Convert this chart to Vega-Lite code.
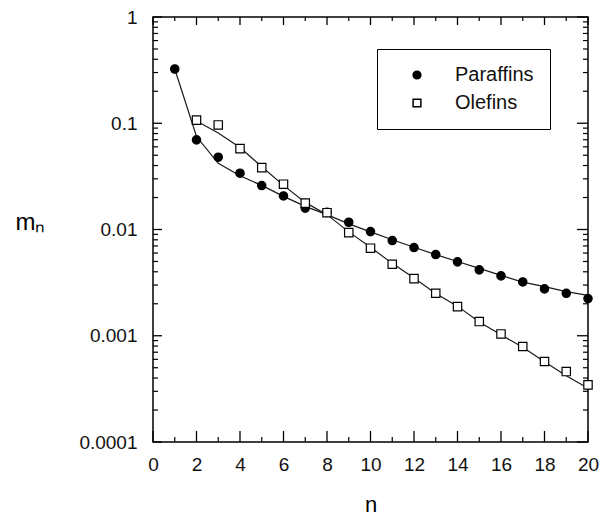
{
  "$schema": "https://vega.github.io/schema/vega-lite/v6.json",
  "width": 435,
  "height": 425,
  "autosize": {"type": "none"},
  "padding": {"left": 153, "top": 17, "right": 15, "bottom": 74},
  "background": "white",
  "config": {
    "view": {"stroke": "black", "strokeWidth": 1.5},
    "font": "Liberation Sans",
    "axis": {
      "domain": false,
      "ticks": false,
      "grid": false,
      "labelColor": "#111",
      "labelFont": "Liberation Sans",
      "labelFontSize": 19,
      "titleFont": "Liberation Sans",
      "titleFontWeight": "normal",
      "titleColor": "black",
      "labelFlush": false,
      "labelOverlap": false
    },
    "legend": {
      "orient": "none",
      "legendX": 224,
      "legendY": 32,
      "strokeColor": "black",
      "fillColor": "white",
      "padding": 16,
      "labelFontSize": 20,
      "labelFont": "Liberation Sans",
      "labelColor": "#111",
      "symbolSize": 60,
      "symbolOffset": 14,
      "labelOffset": 28,
      "rowPadding": 8
    }
  },
  "datasets": {
    "series": [
      {"n": 1, "m": 0.324, "series": "Paraffins", "kind": "data"},
      {"n": 2, "m": 0.0697, "series": "Paraffins", "kind": "data"},
      {"n": 3, "m": 0.0479, "series": "Paraffins", "kind": "data"},
      {"n": 4, "m": 0.0339, "series": "Paraffins", "kind": "data"},
      {"n": 5, "m": 0.0259, "series": "Paraffins", "kind": "data"},
      {"n": 6, "m": 0.0207, "series": "Paraffins", "kind": "data"},
      {"n": 7, "m": 0.0159, "series": "Paraffins", "kind": "data"},
      {"n": 8, "m": 0.0145, "series": "Paraffins", "kind": "data"},
      {"n": 9, "m": 0.0117, "series": "Paraffins", "kind": "data"},
      {"n": 10, "m": 0.00955, "series": "Paraffins", "kind": "data"},
      {"n": 11, "m": 0.00787, "series": "Paraffins", "kind": "data"},
      {"n": 12, "m": 0.00676, "series": "Paraffins", "kind": "data"},
      {"n": 13, "m": 0.00581, "series": "Paraffins", "kind": "data"},
      {"n": 14, "m": 0.00496, "series": "Paraffins", "kind": "data"},
      {"n": 15, "m": 0.00417, "series": "Paraffins", "kind": "data"},
      {"n": 16, "m": 0.00366, "series": "Paraffins", "kind": "data"},
      {"n": 17, "m": 0.00321, "series": "Paraffins", "kind": "data"},
      {"n": 18, "m": 0.00276, "series": "Paraffins", "kind": "data"},
      {"n": 19, "m": 0.00251, "series": "Paraffins", "kind": "data"},
      {"n": 20, "m": 0.00224, "series": "Paraffins", "kind": "data"},
      {"n": 2, "m": 0.107, "series": "Olefins", "kind": "data"},
      {"n": 3, "m": 0.0964, "series": "Olefins", "kind": "data"},
      {"n": 4, "m": 0.0577, "series": "Olefins", "kind": "data"},
      {"n": 5, "m": 0.0382, "series": "Olefins", "kind": "data"},
      {"n": 6, "m": 0.0267, "series": "Olefins", "kind": "data"},
      {"n": 7, "m": 0.0177, "series": "Olefins", "kind": "data"},
      {"n": 8, "m": 0.0144, "series": "Olefins", "kind": "data"},
      {"n": 9, "m": 0.00935, "series": "Olefins", "kind": "data"},
      {"n": 10, "m": 0.00667, "series": "Olefins", "kind": "data"},
      {"n": 11, "m": 0.00471, "series": "Olefins", "kind": "data"},
      {"n": 12, "m": 0.00345, "series": "Olefins", "kind": "data"},
      {"n": 13, "m": 0.00251, "series": "Olefins", "kind": "data"},
      {"n": 14, "m": 0.00188, "series": "Olefins", "kind": "data"},
      {"n": 15, "m": 0.00136, "series": "Olefins", "kind": "data"},
      {"n": 16, "m": 0.00104, "series": "Olefins", "kind": "data"},
      {"n": 17, "m": 0.000792, "series": "Olefins", "kind": "data"},
      {"n": 18, "m": 0.000572, "series": "Olefins", "kind": "data"},
      {"n": 19, "m": 0.00046, "series": "Olefins", "kind": "data"},
      {"n": 20, "m": 0.000345, "series": "Olefins", "kind": "data"},
      {"n": 1, "m": 0.324, "series": "Paraffins", "kind": "fit"},
      {"n": 2, "m": 0.075, "series": "Paraffins", "kind": "fit"},
      {"n": 3, "m": 0.042, "series": "Paraffins", "kind": "fit"},
      {"n": 4, "m": 0.032, "series": "Paraffins", "kind": "fit"},
      {"n": 5, "m": 0.026, "series": "Paraffins", "kind": "fit"},
      {"n": 6, "m": 0.0205, "series": "Paraffins", "kind": "fit"},
      {"n": 7, "m": 0.0165, "series": "Paraffins", "kind": "fit"},
      {"n": 8, "m": 0.0138, "series": "Paraffins", "kind": "fit"},
      {"n": 9, "m": 0.0113, "series": "Paraffins", "kind": "fit"},
      {"n": 10, "m": 0.0095, "series": "Paraffins", "kind": "fit"},
      {"n": 11, "m": 0.008, "series": "Paraffins", "kind": "fit"},
      {"n": 12, "m": 0.0068, "series": "Paraffins", "kind": "fit"},
      {"n": 13, "m": 0.0058, "series": "Paraffins", "kind": "fit"},
      {"n": 14, "m": 0.005, "series": "Paraffins", "kind": "fit"},
      {"n": 15, "m": 0.0043, "series": "Paraffins", "kind": "fit"},
      {"n": 16, "m": 0.0037, "series": "Paraffins", "kind": "fit"},
      {"n": 17, "m": 0.0032, "series": "Paraffins", "kind": "fit"},
      {"n": 18, "m": 0.0029, "series": "Paraffins", "kind": "fit"},
      {"n": 19, "m": 0.0026, "series": "Paraffins", "kind": "fit"},
      {"n": 20, "m": 0.0024, "series": "Paraffins", "kind": "fit"},
      {"n": 2, "m": 0.105, "series": "Olefins", "kind": "fit"},
      {"n": 3, "m": 0.081, "series": "Olefins", "kind": "fit"},
      {"n": 4, "m": 0.059, "series": "Olefins", "kind": "fit"},
      {"n": 5, "m": 0.039, "series": "Olefins", "kind": "fit"},
      {"n": 6, "m": 0.026, "series": "Olefins", "kind": "fit"},
      {"n": 7, "m": 0.018, "series": "Olefins", "kind": "fit"},
      {"n": 8, "m": 0.0138, "series": "Olefins", "kind": "fit"},
      {"n": 9, "m": 0.0095, "series": "Olefins", "kind": "fit"},
      {"n": 10, "m": 0.0068, "series": "Olefins", "kind": "fit"},
      {"n": 11, "m": 0.0048, "series": "Olefins", "kind": "fit"},
      {"n": 12, "m": 0.0035, "series": "Olefins", "kind": "fit"},
      {"n": 13, "m": 0.0025, "series": "Olefins", "kind": "fit"},
      {"n": 14, "m": 0.0019, "series": "Olefins", "kind": "fit"},
      {"n": 15, "m": 0.00135, "series": "Olefins", "kind": "fit"},
      {"n": 16, "m": 0.00102, "series": "Olefins", "kind": "fit"},
      {"n": 17, "m": 0.00078, "series": "Olefins", "kind": "fit"},
      {"n": 18, "m": 0.00057, "series": "Olefins", "kind": "fit"},
      {"n": 19, "m": 0.00042, "series": "Olefins", "kind": "fit"},
      {"n": 20, "m": 0.00032, "series": "Olefins", "kind": "fit"}
    ],
    "xmajor": [{"v": 0}, {"v": 2}, {"v": 4}, {"v": 6}, {"v": 8}, {"v": 10}, {"v": 12}, {"v": 14}, {"v": 16}, {"v": 18}, {"v": 20}],
    "xminor": [{"v": 1}, {"v": 3}, {"v": 5}, {"v": 7}, {"v": 9}, {"v": 11}, {"v": 13}, {"v": 15}, {"v": 17}, {"v": 19}],
    "ymajor": [{"v": 0.0001}, {"v": 0.001}, {"v": 0.01}, {"v": 0.1}, {"v": 1}],
    "yminor": [{"v": 0.0002}, {"v": 0.0003}, {"v": 0.0004}, {"v": 0.0005}, {"v": 0.0006}, {"v": 0.0007}, {"v": 0.0008}, {"v": 0.0009}, {"v": 0.002}, {"v": 0.003}, {"v": 0.004}, {"v": 0.005}, {"v": 0.006}, {"v": 0.007}, {"v": 0.008}, {"v": 0.009}, {"v": 0.02}, {"v": 0.03}, {"v": 0.04}, {"v": 0.05}, {"v": 0.06}, {"v": 0.07}, {"v": 0.08}, {"v": 0.09}, {"v": 0.2}, {"v": 0.3}, {"v": 0.4}, {"v": 0.5}, {"v": 0.6}, {"v": 0.7}, {"v": 0.8}, {"v": 0.9}]
  },
  "layer": [
    {
      "data": {"name": "series"},
      "transform": [{"filter": "datum.kind == 'fit'"}],
      "mark": {"type": "line", "color": "#1a1a1a", "strokeWidth": 1.2},
      "encoding": {
        "x": {
          "field": "n",
          "type": "quantitative",
          "scale": {"domain": [0, 20], "nice": false, "zero": false},
          "axis": {
            "orient": "bottom",
            "values": [0, 2, 4, 6, 8, 10, 12, 14, 16, 18, 20],
            "labelPadding": 13,
            "title": "n",
            "titleFontSize": 22,
            "titleY": 62,
            "titleBaseline": "middle"
          }
        },
        "y": {
          "field": "m",
          "type": "quantitative",
          "scale": {"type": "log", "domain": [0.0001, 1], "nice": false},
          "axis": {
            "orient": "left",
            "values": [0.0001, 0.001, 0.01, 0.1, 1],
            "format": "~g",
            "labelPadding": 16,
            "title": "mₙ",
            "titleFontSize": 24,
            "titleAngle": 0,
            "titleAlign": "center",
            "titleBaseline": "middle",
            "titleX": -123,
            "titleY": 205
          }
        },
        "detail": {"field": "series"}
      }
    },
    {
      "data": {"name": "xmajor"},
      "mark": {"type": "tick", "orient": "vertical", "color": "black", "size": 11, "thickness": 1.3, "yOffset": -5.5, "opacity": 1},
      "encoding": {
        "x": {"field": "v", "type": "quantitative", "axis": null},
        "y": {"datum": 0.0001, "type": "quantitative", "axis": null}
      }
    },
    {
      "data": {"name": "xmajor"},
      "mark": {"type": "tick", "orient": "vertical", "color": "black", "size": 8, "thickness": 1.3, "yOffset": 4, "opacity": 1},
      "encoding": {
        "x": {"field": "v", "type": "quantitative", "axis": null},
        "y": {"datum": 1, "type": "quantitative", "axis": null}
      }
    },
    {
      "data": {"name": "xminor"},
      "mark": {"type": "tick", "orient": "vertical", "color": "black", "size": 5, "thickness": 1.2, "yOffset": -2.5, "opacity": 1},
      "encoding": {
        "x": {"field": "v", "type": "quantitative", "axis": null},
        "y": {"datum": 0.0001, "type": "quantitative", "axis": null}
      }
    },
    {
      "data": {"name": "xminor"},
      "mark": {"type": "tick", "orient": "vertical", "color": "black", "size": 4, "thickness": 1.2, "yOffset": 2, "opacity": 1},
      "encoding": {
        "x": {"field": "v", "type": "quantitative", "axis": null},
        "y": {"datum": 1, "type": "quantitative", "axis": null}
      }
    },
    {
      "data": {"name": "ymajor"},
      "mark": {"type": "tick", "orient": "horizontal", "color": "black", "size": 9, "thickness": 1.3, "xOffset": 4.5, "opacity": 1},
      "encoding": {
        "y": {"field": "v", "type": "quantitative", "axis": null},
        "x": {"datum": 0, "type": "quantitative", "axis": null}
      }
    },
    {
      "data": {"name": "ymajor"},
      "mark": {"type": "tick", "orient": "horizontal", "color": "black", "size": 11, "thickness": 1.3, "xOffset": -5.5, "opacity": 1},
      "encoding": {
        "y": {"field": "v", "type": "quantitative", "axis": null},
        "x": {"datum": 20, "type": "quantitative", "axis": null}
      }
    },
    {
      "data": {"name": "yminor"},
      "mark": {"type": "tick", "orient": "horizontal", "color": "black", "size": 5, "thickness": 1.2, "xOffset": 2.5, "opacity": 1},
      "encoding": {
        "y": {"field": "v", "type": "quantitative", "axis": null},
        "x": {"datum": 0, "type": "quantitative", "axis": null}
      }
    },
    {
      "data": {"name": "yminor"},
      "mark": {"type": "tick", "orient": "horizontal", "color": "black", "size": 5, "thickness": 1.2, "xOffset": -2.5, "opacity": 1},
      "encoding": {
        "y": {"field": "v", "type": "quantitative", "axis": null},
        "x": {"datum": 20, "type": "quantitative", "axis": null}
      }
    },
    {
      "data": {"name": "series"},
      "transform": [{"filter": "datum.kind == 'data'"}],
      "mark": {"type": "point", "filled": true, "stroke": "black", "strokeWidth": 1.2, "size": 70, "opacity": 1},
      "encoding": {
        "x": {"field": "n", "type": "quantitative", "axis": null},
        "y": {"field": "m", "type": "quantitative", "axis": null},
        "shape": {
          "field": "series",
          "type": "nominal",
          "scale": {"domain": ["Paraffins", "Olefins"], "range": ["circle", "square"]},
          "legend": {
            "title": null,
            "encode": {"symbols": {"update": {"stroke": {"value": "black"}, "strokeWidth": {"value": 1.2}}}}
          }
        },
        "fill": {
          "field": "series",
          "type": "nominal",
          "scale": {"domain": ["Paraffins", "Olefins"], "range": ["black", "white"]},
          "legend": {
            "title": null,
            "encode": {"symbols": {"update": {"stroke": {"value": "black"}, "strokeWidth": {"value": 1.2}}}}
          }
        }
      }
    }
  ],
  "resolve": {"axis": {"x": "independent", "y": "independent"}}
}
